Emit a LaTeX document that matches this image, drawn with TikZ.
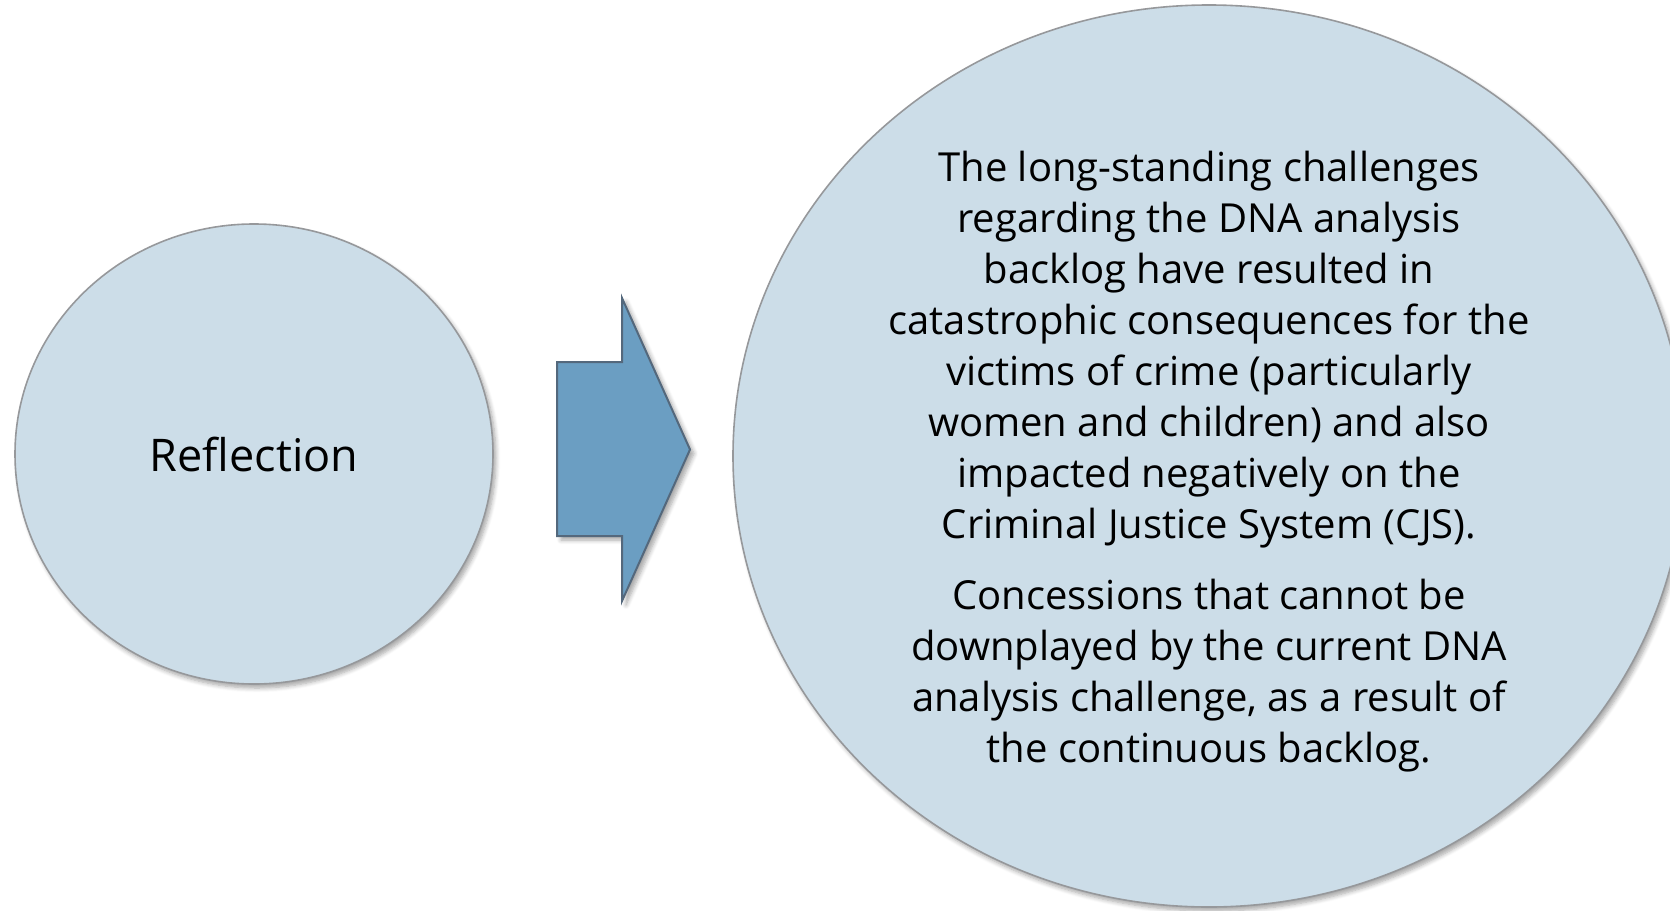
\documentclass[tikz,border=0pt]{standalone}
\usepackage{fontspec}
\setmainfont{Open Sans}
\usepackage{xcolor}
\usetikzlibrary{calc}
\usetikzlibrary{shapes.geometric}
\usetikzlibrary{shadows.blur}
\definecolor{bubblefill}{RGB}{204,221,232}
\definecolor{bubbleline}{RGB}{150,152,155}
\definecolor{arrowfill}{RGB}{107,158,194}
\definecolor{arrowline}{RGB}{84,104,124}

\begin{document}
\begin{tikzpicture}[x=0.5pt,y=-0.5pt]
% 1 unit = 1 px of the slide, y runs down
    \def\XONE{254} %centre of small circle
    \def\YONE{454}
    \def\XTWO{1209} %centre of big circle
    \def\YTWO{456}

    %ARROW
    \def\XASTART{557}
    \def\XANOTCH{622}
    \def\XATIP{690}
    \def\YATOP{362} %shaft
    \def\YABOT{536}
    \def\YHTOP{298} %head
    \def\YHBOT{601}

    \tikzset{
      bubble/.style={ellipse, draw=bubbleline, fill=bubblefill,
        line width=0.8pt, inner sep=0pt,
        blur shadow={shadow xshift=1.5pt, shadow yshift=-2pt,
          shadow blur steps=6, shadow opacity=35}},
      bubbletext/.style={font=\fontsize{20}{25.5}\selectfont,
        align=center, text=black, inner sep=0pt},
      blockarrow/.style={draw=arrowline, fill=arrowfill, line width=1pt,
        line join=miter,
        blur shadow={shadow xshift=2pt, shadow yshift=-2pt,
          shadow blur steps=6, shadow opacity=35}},
    }

    \useasboundingbox (0,0) rectangle (1670,910);

    % FIRST CIRCLE
    \node[bubble, minimum width=239pt, minimum height=230pt] (reflection)
        at (\XONE,\YONE) {};
    \node[bubbletext, font=\fontsize{22.5}{27}\selectfont] (reflectiontext)
        at (reflection.center) {Reflection};

    % BLOCK ARROW
    \draw[blockarrow] (\XASTART,\YATOP) -- (\XANOTCH,\YATOP)
        -- (\XANOTCH,\YHTOP) -- (\XATIP,{(\YHTOP+\YHBOT)/2})
        -- (\XANOTCH,\YHBOT) -- (\XANOTCH,\YABOT)
        -- (\XASTART,\YABOT) -- cycle;

    % SECOND CIRCLE
    \node[bubble, minimum width=476pt, minimum height=451pt] (effects)
        at (\XTWO,\YTWO) {};
    \node[bubbletext, yshift=-3pt] (effectstext) at (effects.center)
        {The long-standing challenges\\
         regarding the DNA analysis\\
         backlog have resulted in\\
         catastrophic consequences for the\\
         victims of crime (particularly\\
         women and children) and also\\
         impacted negatively on the\\
         Criminal Justice System (CJS).\\[10pt]
         Concessions that cannot be\\
         downplayed by the current DNA\\
         analysis challenge, as a result of\\
         the continuous backlog.};

\end{tikzpicture}
\end{document}
